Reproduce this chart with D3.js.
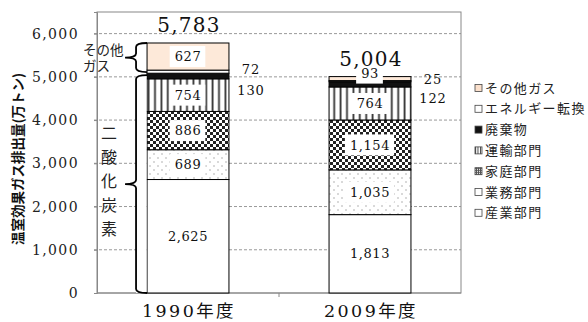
<!DOCTYPE html>
<html><head><meta charset="utf-8">
<script src="https://cdn.jsdelivr.net/npm/d3@7"></script>
<style>
html,body{margin:0;padding:0;background:#fff;}
svg{display:block;}
</style></head>
<body>
<svg id="chart" width="588" height="322"></svg>
<script>
const categories = ["1990年度", "2009年度"];
const seriesNames = ["産業部門", "業務部門", "家庭部門", "運輸部門", "廃棄物", "エネルギー転換", "その他ガス"];
const values1990 = [2625, 689, 886, 754, 130, 72, 627];
const values2009 = [1813, 1035, 1154, 764, 122, 25, 93];
const totals = [5783, 5004];
const yTicks = [0, 1000, 2000, 3000, 4000, 5000, 6000];
const yTitle = "温室効果ガス排出量(万トン)";
const otherGasLabel = ["その他", "ガス"];
const co2Label = ["二", "酸", "化", "炭", "素"];
const legendOrder = ["その他ガス", "エネルギー転換", "廃棄物", "運輸部門", "家庭部門", "業務部門", "産業部門"];

const seriesValues = [values1990, values2009];
const fills = ["#ffffff", "url(#dots)", "url(#checker)", "url(#stripes)", "#111111", "#ffffff", "#fde9d9"];
const legendFills = ["#ffffff", "#ffffff", "url(#checkerS)", "url(#stripesS)", "#111111", "#ffffff", "#fbe0cc"];

const svg = d3.select("#chart");
const serif = "'DejaVu Serif','Liberation Serif','Noto Sans CJK JP',serif";
const sans = "'Noto Sans CJK JP','Noto Sans',sans-serif";

// patterns
const defs = svg.append("defs");
const st = defs.append("pattern").attr("id", "stripes").attr("patternUnits", "userSpaceOnUse").attr("width", 6.4).attr("height", 6);
st.append("rect").attr("width", 6.4).attr("height", 6).attr("fill", "#fff");
st.append("rect").attr("x", 0.5).attr("width", 1.8).attr("height", 6).attr("fill", "#333");
const ck = defs.append("pattern").attr("id", "checker").attr("patternUnits", "userSpaceOnUse").attr("width", 6).attr("height", 6);
ck.append("rect").attr("width", 6).attr("height", 6).attr("fill", "#fff");
ck.append("rect").attr("width", 3).attr("height", 3).attr("fill", "#222");
ck.append("rect").attr("x", 3).attr("y", 3).attr("width", 3).attr("height", 3).attr("fill", "#222");
const dt = defs.append("pattern").attr("id", "dots").attr("patternUnits", "userSpaceOnUse").attr("width", 8).attr("height", 8);
dt.append("rect").attr("width", 8).attr("height", 8).attr("fill", "#fff");
dt.append("circle").attr("cx", 2).attr("cy", 2).attr("r", 0.8).attr("fill", "#aaa");
dt.append("circle").attr("cx", 6).attr("cy", 6).attr("r", 0.8).attr("fill", "#aaa");
const sts = defs.append("pattern").attr("id", "stripesS").attr("patternUnits", "userSpaceOnUse").attr("width", 2.5).attr("height", 4);
sts.append("rect").attr("width", 2.5).attr("height", 4).attr("fill", "#fff");
sts.append("rect").attr("width", 1).attr("height", 4).attr("fill", "#444");
const cks = defs.append("pattern").attr("id", "checkerS").attr("patternUnits", "userSpaceOnUse").attr("width", 2).attr("height", 2);
cks.append("rect").attr("width", 2).attr("height", 2).attr("fill", "#555");
cks.append("rect").attr("width", 1).attr("height", 1).attr("fill", "#fff");

const plot = {left: 97, right: 461, top: 12, bottom: 293};
const y = d3.scaleLinear().domain([0, 6500]).range([plot.bottom, plot.top]);
const x = d3.scaleBand().domain(categories).range([plot.left, plot.right]).paddingInner(0.55).paddingOuter(0.275);

// gridlines
svg.append("g").selectAll("line").data(yTicks.filter(d => d > 0)).join("line")
  .attr("x1", plot.left - 3).attr("x2", plot.right)
  .attr("y1", d => y(d)).attr("y2", d => y(d))
  .attr("stroke", "#999").attr("stroke-width", 1).attr("stroke-dasharray", "3,2");

// frame
svg.append("rect").attr("x", plot.left).attr("y", plot.top)
  .attr("width", plot.right - plot.left).attr("height", plot.bottom - plot.top)
  .attr("fill", "none").attr("stroke", "#888").attr("stroke-width", 1);

// y axis
const yAxis = svg.append("g").attr("transform", `translate(${plot.left},0)`)
  .call(d3.axisLeft(y).tickValues(yTicks).tickFormat(d3.format(",")).tickSize(3).tickPadding(15));
yAxis.select(".domain").attr("stroke", "#888");
yAxis.selectAll(".tick line").attr("stroke", "#888");
yAxis.selectAll(".tick text").attr("font-family", serif).attr("font-size", 14)
  .attr("letter-spacing", 1.4).attr("fill", "#222");

// bottom axis line and category separator tick
svg.append("line").attr("x1", plot.left).attr("x2", plot.right).attr("y1", plot.bottom).attr("y2", plot.bottom).attr("stroke", "#888");
svg.append("g").selectAll("line").data([x(categories[0]) + x.bandwidth() / 2 + x.step() / 2]).join("line")
  .attr("x1", d => d).attr("x2", d => d).attr("y1", plot.bottom).attr("y2", plot.bottom + 4).attr("stroke", "#888");

// category labels
svg.append("g").selectAll("text").data(categories).join("text")
  .attr("x", d => x(d) + x.bandwidth() / 2 + 1).attr("y", 317)
  .attr("text-anchor", "middle").attr("font-family", serif).attr("font-size", 17.5)
  .attr("letter-spacing", 2.4).attr("fill", "#111").text(d => d);

// stacked bars
const fmt = d3.format(",");
categories.forEach((cat, ci) => {
  const vals = seriesValues[ci];
  let cum = 0;
  const segs = vals.map((v, si) => { const s = {si, v, y0: cum, y1: cum + v}; cum += v; return s; });
  const g = svg.append("g");
  const bx = x(cat), bw = x.bandwidth();
  g.selectAll("rect").data(segs).join("rect")
    .attr("x", bx).attr("width", bw)
    .attr("y", d => y(d.y1)).attr("height", d => y(d.y0) - y(d.y1))
    .attr("fill", d => fills[d.si]).attr("stroke", "#000").attr("stroke-width", 1);

  // inside labels
  segs.filter(d => [0, 1, 2, 3, 6].includes(d.si)).forEach(d => {
    const h = y(d.y0) - y(d.y1);
    const small = h < 20;
    const cy = small ? y(d.y1) - 3 : (y(d.y0) + y(d.y1)) / 2;
    const cx = bx + bw / 2;
    const t = g.append("text").attr("x", cx).attr("y", cy).attr("dy", "0.36em")
      .attr("text-anchor", "middle").attr("font-family", serif).attr("font-size", 13)
      .attr("letter-spacing", 0.6).attr("fill", "#111").text(fmt(d.v));
    if (d.si !== 0) {
      const bb = t.node().getBBox();
      const bh = small ? 14 : 21;
      g.insert("rect", "text").attr("x", bb.x - 5).attr("y", small ? cy - 4 : cy - bh / 2)
        .attr("width", bb.width + 9).attr("height", small ? 14 : bh).attr("fill", "#fff");
    }
  });
  g.selectAll("text").raise();

  // outside labels (廃棄物, エネルギー転換)
  const waste = segs[4], energy = segs[5];
  g.append("text").attr("x", bx + bw + 22).attr("y", y(waste.y0) + 11).attr("dy", "0.36em")
    .attr("text-anchor", "middle").attr("font-family", serif).attr("font-size", 13)
    .attr("letter-spacing", 0.8).attr("fill", "#111").text(fmt(waste.v));
  g.append("text").attr("x", bx + bw + 22).attr("y", y(energy.y1) - 1).attr("dy", "0.36em")
    .attr("text-anchor", "middle").attr("font-family", serif).attr("font-size", 13)
    .attr("letter-spacing", 0.8).attr("fill", "#111").text(fmt(energy.v));

  // total
  g.append("text").attr("x", bx + bw / 2 + 1).attr("y", y(totals[ci]) - 11)
    .attr("text-anchor", "middle").attr("font-family", serif).attr("font-size", 20)
    .attr("letter-spacing", 1.2).attr("fill", "#111").text(fmt(totals[ci]));
});

// braces for 1990 bar
{
  const vals = values1990;
  const co2Top = d3.sum(vals.slice(0, 6));
  const total = d3.sum(vals);
  const bx = x(categories[0]);
  const lx = bx - 11;
  function brace(yTop, yBot, tipLen) {
    const ym = (yTop + yBot) / 2;
    const r = 4;
    return `M${bx},${yTop} Q${lx},${yTop} ${lx},${yTop + r} L${lx},${ym - r} Q${lx},${ym} ${lx - tipLen},${ym} Q${lx},${ym} ${lx},${ym + r} L${lx},${yBot - r} Q${lx},${yBot} ${bx},${yBot}`;
  }
  svg.append("rect").attr("x", lx).attr("y", y(co2Top) + 5).attr("width", bx - lx - 0.5)
    .attr("height", y(0) - y(co2Top) - 5).attr("fill", "#fff");
  svg.append("path").attr("d", brace(y(total), y(co2Top) + 2, 11))
    .attr("fill", "none").attr("stroke", "#000").attr("stroke-width", 1.8);
  svg.append("path").attr("d", brace(y(co2Top) + 5, y(0), 11))
    .attr("fill", "none").attr("stroke", "#000").attr("stroke-width", 1.8);

  svg.append("g").selectAll("text").data(otherGasLabel).join("text")
    .attr("x", 83).attr("y", (d, i) => (y(total) + y(co2Top)) / 2 - 6 + i * 16).attr("dy", "0.36em")
    .attr("font-family", sans).attr("font-size", 13.5).attr("fill", "#222").text(d => d);

  const mid = (y(0) + y(co2Top)) / 2;
  svg.append("g").selectAll("text").data(co2Label).join("text")
    .attr("x", 109).attr("y", (d, i) => mid + (i - 2) * 24).attr("dy", "0.36em")
    .attr("text-anchor", "middle").attr("font-family", sans).attr("font-size", 16)
    .attr("fill", "#222").text(d => d);
}

// y title
svg.append("text").attr("transform", `translate(18,159) rotate(-90)`).attr("dy", "0.36em")
  .attr("text-anchor", "middle").attr("font-family", sans).attr("font-weight", "bold")
  .attr("font-size", 13.5).attr("fill", "#111").text(yTitle);

// legend
const lg = svg.append("g").attr("transform", "translate(475,88)");
const li = lg.selectAll("g").data(legendOrder).join("g").attr("transform", (d, i) => `translate(0,${i * 20.8})`);
li.append("rect").attr("x", 0).attr("y", -3.5).attr("width", 7).attr("height", 7)
  .attr("fill", d => legendFills[seriesNames.indexOf(d)]).attr("stroke", "#444").attr("stroke-width", 0.8);
li.append("text").attr("x", 10).attr("dy", "0.36em").attr("font-family", sans).attr("font-size", 13)
  .attr("letter-spacing", 1.4).attr("fill", "#222").text(d => d);
</script>
</body></html>
